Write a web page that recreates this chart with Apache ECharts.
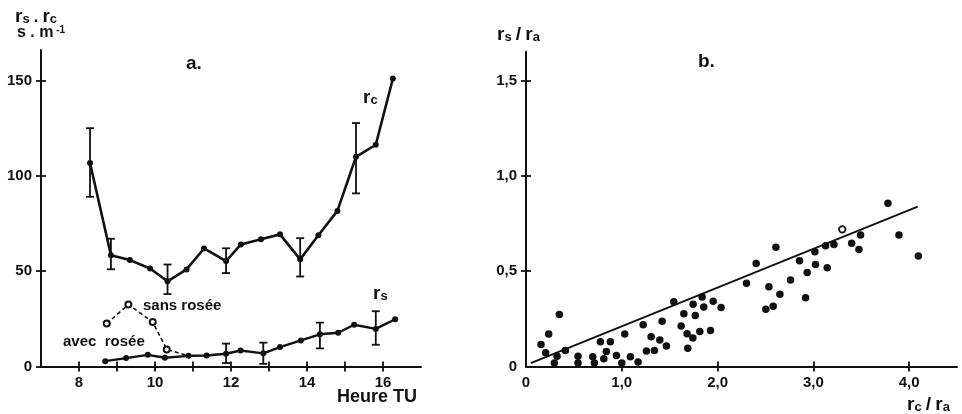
<!DOCTYPE html>
<html><head><meta charset="utf-8">
<script src="https://cdn.jsdelivr.net/npm/echarts@6/dist/echarts.min.js"></script>
<style>html,body{margin:0;padding:0;background:#fff}#c{width:962px;height:414px}</style>
</head><body><div id="c"></div>
<script>
// ---- Panel a: resistances vs hour ----
const hoursRc = [8.29, 8.84, 9.34, 9.87, 10.33, 10.83, 11.29, 11.87, 12.26, 12.79, 13.29, 13.82, 14.30, 14.80, 15.29, 15.81, 16.26];
const rcValues = [106.7, 58.4, 55.8, 51.4, 44.7, 50.9, 61.9, 55.3, 64.0, 66.8, 69.3, 56.2, 68.8, 81.6, 110.0, 116.3, 151.0];
const rcErrHours = [8.29, 8.84, 10.33, 11.87, 13.82, 15.29];
const rcErrLow = [89, 51, 38, 49, 47.2, 90.8];
const rcErrHigh = [125, 67, 53.5, 62, 67.3, 127.7];

const hoursRs = [8.69, 9.24, 9.81, 10.26, 10.88, 11.36, 11.87, 12.25, 12.85, 13.29, 13.84, 14.34, 14.82, 15.24, 15.81, 16.32];
const rsValues = [2.8, 4.4, 6.1, 4.6, 5.6, 5.8, 6.7, 8.4, 6.9, 10.2, 13.7, 16.9, 17.7, 21.9, 19.7, 24.8];
const rsErrHours = [11.87, 12.85, 14.34, 15.81];
const rsErrLow = [1.8, 1.4, 9.5, 11.4];
const rsErrHigh = [12.0, 12.5, 23.0, 29.0];

const hoursSans = [8.73, 9.30, 9.94, 10.31, 10.88];
const sansValues = [22.5, 32.5, 23.3, 8.9, 5.6];

const xTicksA = [8, 9, 10, 11, 12, 13, 14, 15, 16];
const xLabelsA = [8, 10, 12, 14, 16];
const yTicksA = [0, 50, 100, 150];

// ---- Panel b: rs/ra vs rc/ra ----
const ratioX = [0.157, 0.205, 0.237, 0.296, 0.324, 0.348, 0.411, 0.543, 0.543, 0.697, 0.714, 0.777, 0.812, 0.839, 0.881, 0.944, 1.000, 1.031, 1.090, 1.170, 1.223, 1.257, 1.306, 1.341, 1.397, 1.421, 1.466, 1.543, 1.620, 1.648, 1.682, 1.689, 1.742, 1.745, 1.767, 1.815, 1.839, 1.856, 1.926, 1.954, 2.037, 2.302, 2.403, 2.504, 2.536, 2.581, 2.609, 2.651, 2.762, 2.856, 2.919, 2.936, 3.016, 3.023, 3.128, 3.145, 3.215, 3.400, 3.476, 3.493, 3.779, 3.894, 4.096];
const ratioY = [0.116, 0.072, 0.170, 0.019, 0.054, 0.272, 0.084, 0.054, 0.019, 0.051, 0.019, 0.130, 0.040, 0.079, 0.130, 0.058, 0.019, 0.170, 0.051, 0.023, 0.219, 0.081, 0.156, 0.084, 0.139, 0.237, 0.107, 0.339, 0.212, 0.277, 0.172, 0.096, 0.149, 0.326, 0.268, 0.184, 0.365, 0.312, 0.189, 0.342, 0.309, 0.437, 0.540, 0.300, 0.418, 0.316, 0.625, 0.379, 0.453, 0.554, 0.361, 0.493, 0.602, 0.535, 0.633, 0.518, 0.640, 0.646, 0.614, 0.689, 0.856, 0.689, 0.579];
const openX = [3.302];
const openY = [0.719];
const fitX = [0.05, 4.09];
const fitY = [0.018, 0.838];

const xTicksB = [0, 1, 2, 3, 4];
const yTicksB = [0, 0.5, 1.0, 1.5];

const ink = '#111';
const FONT = '"Liberation Sans", Arial, sans-serif';
const zip = (a, b) => a.map((v, i) => [v, b[i]]);
const zip3 = (a, b, c) => a.map((v, i) => [v, b[i], c[i]]);
const commaFmt = v => (v === 0 ? '0' : v.toFixed(1).replace('.', ','));

function axis(extra, ticks, labels, fmt, inner) {
  return Object.assign({
    type: 'value',
    splitLine: { show: false },
    axisLine: { show: !inner, onZero: false, lineStyle: { color: ink, width: 2 } },
    axisTick: { show: true, inside: !!inner, length: 5, customValues: ticks, lineStyle: { color: ink, width: 1.8 } },
    axisLabel: { show: !inner, customValues: labels, formatter: fmt, color: ink, fontFamily: FONT, fontWeight: 'bold', fontSize: 15, margin: 9 }
  }, extra);
}

function errorBarItem(params, api) {
  const x = api.value(0), lo = api.value(1), hi = api.value(2);
  const pLo = api.coord([x, lo]), pHi = api.coord([x, hi]);
  const w = 4;
  const st = { stroke: ink, lineWidth: 1.8 };
  return { type: 'group', children: [
    { type: 'line', shape: { x1: pLo[0], y1: pLo[1], x2: pHi[0], y2: pHi[1] }, style: st },
    { type: 'line', shape: { x1: pLo[0] - w, y1: pLo[1], x2: pLo[0] + w, y2: pLo[1] }, style: st },
    { type: 'line', shape: { x1: pHi[0] - w, y1: pHi[1], x2: pHi[0] + w, y2: pHi[1] }, style: st }
  ]};
}

const sub = { r: { fontSize: 19, fontWeight: 'bold', fontFamily: FONT, fill: ink, verticalAlign: 'bottom' },
               s: { fontSize: 13, fontWeight: 'bold', fontFamily: FONT, fill: ink, verticalAlign: 'bottom' },
               t: { fontSize: 16, fontWeight: 'bold', fontFamily: FONT, fill: ink, verticalAlign: 'bottom' },
               p: { fontSize: 10, fontWeight: 'bold', fontFamily: FONT, fill: ink, verticalAlign: 'top' } };
function txt(left, top, text, size, rich) {
  const style = { text: text, fill: ink, font: 'bold ' + (size || 15) + 'px ' + FONT };
  if (rich) style.rich = sub;
  return { type: 'text', left: left, top: top, style: style, z: 10 };
}

const chart = echarts.init(document.getElementById('c'));
chart.setOption({
  animation: false,
  backgroundColor: '#fff',
  grid: [
    { left: 41, top: 50, width: 380, height: 316.5 },
    { left: 526, top: 51.8, width: 431, height: 314.7 }
  ],
  xAxis: [
    axis({ gridIndex: 0, position: 'bottom', min: 7, max: 17 }, xTicksA, xLabelsA, null, false),
    axis({ gridIndex: 0, position: 'bottom', min: 7, max: 17 }, xTicksA, xLabelsA, null, true),
    axis({ gridIndex: 1, position: 'bottom', min: 0, max: 4.5 }, xTicksB.slice(1), xTicksB, commaFmt, false),
    axis({ gridIndex: 1, position: 'bottom', min: 0, max: 4.5 }, xTicksB.slice(1), xTicksB, commaFmt, true)
  ],
  yAxis: [
    axis({ gridIndex: 0, position: 'left', min: 0, max: 166 }, yTicksA, yTicksA, null, false),
    axis({ gridIndex: 0, position: 'left', min: 0, max: 166 }, yTicksA, yTicksA, null, true),
    axis({ gridIndex: 1, position: 'left', min: 0, max: 1.65 }, yTicksB.slice(1), yTicksB, commaFmt, false),
    axis({ gridIndex: 1, position: 'left', min: 0, max: 1.65 }, yTicksB.slice(1), yTicksB, commaFmt, true)
  ],
  series: [
    { type: 'line', xAxisIndex: 0, yAxisIndex: 0, z: 2,
      data: zip(hoursSans, sansValues).map((p, i) => i === hoursSans.length - 1 ? { value: p, symbol: 'none' } : p),
      symbol: 'emptyCircle', symbolSize: 6, showSymbol: true, showAllSymbol: true,
      itemStyle: { color: ink, borderColor: ink, borderWidth: 1.3, opacity: 1 },
      lineStyle: { color: ink, width: 1.6, type: [4, 3] } },
    { type: 'line', xAxisIndex: 0, yAxisIndex: 0, z: 3, data: zip(hoursRc, rcValues),
      symbol: 'circle', symbolSize: 6, itemStyle: { color: ink }, lineStyle: { color: ink, width: 2.6 } },
    { type: 'custom', xAxisIndex: 0, yAxisIndex: 0, z: 4, renderItem: errorBarItem,
      encode: { x: 0, y: [1, 2] }, data: zip3(rcErrHours, rcErrLow, rcErrHigh) },
    { type: 'line', xAxisIndex: 0, yAxisIndex: 0, z: 3, data: zip(hoursRs, rsValues),
      symbol: 'circle', symbolSize: 6, itemStyle: { color: ink }, lineStyle: { color: ink, width: 2.4 } },
    { type: 'custom', xAxisIndex: 0, yAxisIndex: 0, z: 4, renderItem: errorBarItem,
      encode: { x: 0, y: [1, 2] }, data: zip3(rsErrHours, rsErrLow, rsErrHigh) },
    { type: 'line', xAxisIndex: 2, yAxisIndex: 2, z: 2, data: zip(fitX, fitY),
      symbol: 'none', lineStyle: { color: ink, width: 2 } },
    { type: 'scatter', xAxisIndex: 2, yAxisIndex: 2, z: 3, data: zip(ratioX, ratioY),
      symbol: 'circle', symbolSize: 7.5, itemStyle: { color: ink, opacity: 1 } },
    { type: 'scatter', xAxisIndex: 2, yAxisIndex: 2, z: 3, data: zip(openX, openY),
      symbol: 'circle', symbolSize: 6.5, itemStyle: { color: '#fff', borderColor: ink, borderWidth: 1.8, opacity: 1 } }
  ],
  graphic: [
    txt(15, 7, '{r|r}{s|s} {t|.} {r|r}{s|c}', 15, true),
    txt(17, 25, '{t|s . m}{p| -1}', 15, true),
    txt(186, 54, 'a.', 19),
    txt(698, 52, 'b.', 19),
    txt(497, 25, '{r|r}{s|s} {r|/} {r|r}{s|a}', 15, true),
    txt(337, 388, 'Heure TU', 18),
    txt(907, 395, '{r|r}{s|c} {r|/} {r|r}{s|a}', 15, true),
    txt(363, 88, '{r|r}{s|c}', 15, true),
    txt(373, 284, '{r|r}{s|s}', 15, true),
    txt(143, 298, 'sans rosée', 15),
    txt(63, 334, 'avec  rosée', 15)
  ]
});
</script></body></html>
